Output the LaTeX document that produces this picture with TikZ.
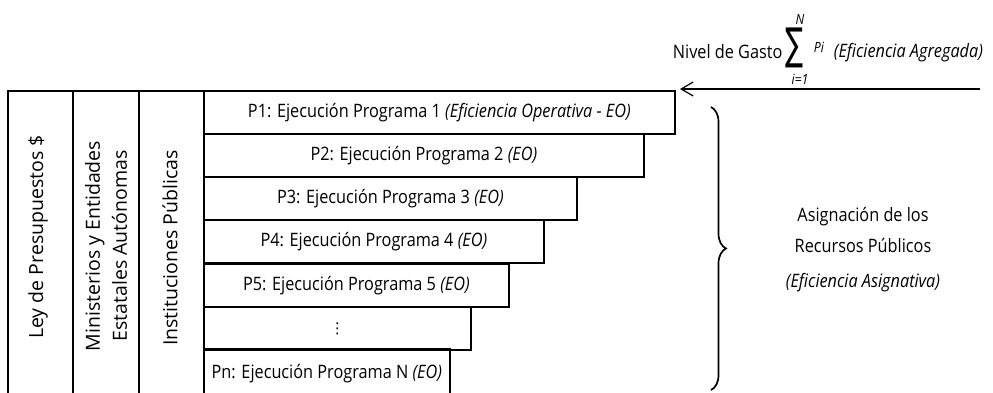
\documentclass[tikz,border=0pt]{standalone}
\usepackage{graphicx}
\usepackage{fontspec}
\setmainfont{Open Sans}[FakeStretch=0.88]
\newfontfamily\rotfont{Open Sans}
\newfontfamily\dejavu{DejaVu Sans}
\usetikzlibrary{arrows.meta,decorations.pathreplacing,positioning}
\begin{document}
\begin{tikzpicture}[x=1pt,y=-1pt,
  line width=1.7pt,
  txt/.style={font=\fontsize{18.5}{23}\selectfont, inner sep=0pt},
  rtxt/.style={font=\rotfont\fontsize{19.5}{27}\selectfont, inner sep=0pt, rotate=90},
  small/.style={font=\fontsize{14}{14}\selectfont\itshape, inner sep=0pt},
  colbox/.style={draw, anchor=north west, minimum height=310pt, inner sep=0pt},
  prog/.style={draw, anchor=north west, minimum height=43pt, inner sep=0pt, font=\fontsize{18.5}{23}\selectfont},
]
\useasboundingbox (0,0) rectangle (993,392);
% left columns
\node[colbox, minimum width=65pt] (c1) at (7,90) {};
\node[colbox, minimum width=66pt] (c2) at (72,90) {};
\node[colbox, minimum width=65pt] (c3) at (138,90) {};
\node[rtxt] (t1) at (38,237) {Ley de Presupuestos \$};
\node[rtxt, align=center] (t2) at (106,246) {Ministerios y Entidades\\Estatales Autónomas};
\node[rtxt] (t3) at (170,248) {Instituciones Públicas};
% program boxes
\node[prog, minimum width=471pt] (p1) at (203,90) {P1: Ejecución Programa 1 \textit{(Eficiencia Operativa - EO)}};
\node[prog, minimum width=440pt] (p2) at (203,133) {P2: Ejecución Programa 2 \textit{(EO)}};
\node[prog, minimum width=373pt] (p3) at (203,176) {P3: Ejecución Programa 3 \textit{(EO)}};
\node[prog, minimum width=340pt] (p4) at (203,219) {P4: Ejecución Programa 4 \textit{(EO)}};
\node[prog, minimum width=305pt] (p5) at (203,263) {P5: Ejecución Programa 5 \textit{(EO)}};
\node[prog, minimum width=267pt] (pd) at (203,306) {\dejavu\fontsize{15}{15}\selectfont ⋮};
\node[prog, minimum width=246pt, minimum height=50pt] (pn) at (203,348) {\raisebox{3pt}{Pn: Ejecución Programa N \textit{(EO)}}};
% arrow
\coordinate (astart) at (980,89);
\coordinate (aend) at (680,89);
\draw[line width=1.2pt, -{Straight Barb[length=12pt,width=14pt,line width=1.2pt]}] (astart) -- (aend);
% top label
\node[txt, anchor=west] (ng) at (672,52) {Nivel de Gasto};
\node[inner sep=0pt] (sig) at (794,48) {\resizebox*{18pt}{40pt}{\dejavu ∑}};
\node[small] (sN) at (800,19) {N};
\node[small] (si) at (800,79) {i=1};
\node[small, anchor=west] (pi) at (813,47) {Pi};
\node[txt, anchor=west, font=\fontsize{18.5}{23}\selectfont\itshape] (ea) at (833,53) {(Eficiencia Agregada)};
% brace
\coordinate (btop) at (711,107);
\coordinate (bbot) at (711,390);
\draw[line width=1.7pt, decorate, decoration={brace, amplitude=15pt, aspect=0.5}] (btop) -- (bbot);
% right texts
\node[txt, align=center] (as1) at (863,217) {Asignación de los};
\node[txt, align=center] (as2) at (863,245) {Recursos Públicos};
\node[txt, font=\fontsize{18.5}{23}\selectfont\itshape] (as3) at (863,283) {(Eficiencia Asignativa)};
\end{tikzpicture}
\end{document}
